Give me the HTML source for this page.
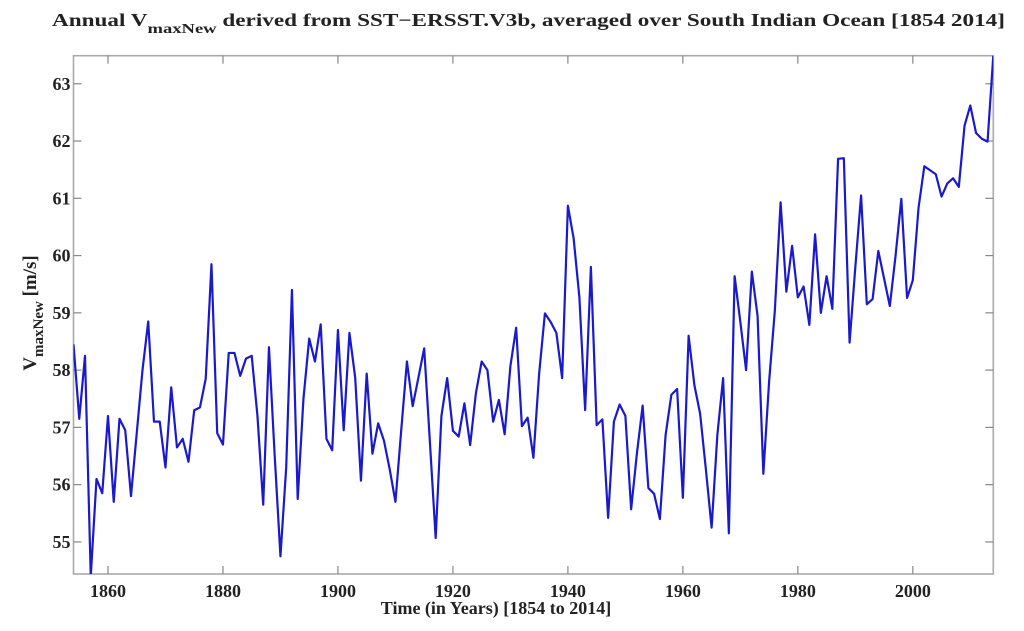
<!DOCTYPE html>
<html><head><meta charset="utf-8"><style>
html,body{margin:0;padding:0;background:#fff;}
svg{display:block;font-family:"Liberation Serif",serif;}
</style></head><body>
<svg id="chart" width="1024" height="631" viewBox="0 0 1024 631" xmlns="http://www.w3.org/2000/svg">
<text x="52" y="26" font-size="17.5" font-weight="bold" fill="#222" textLength="953" lengthAdjust="spacingAndGlyphs">Annual V<tspan dy="7" font-size="14">maxNew</tspan><tspan dy="-7"> derived from SST−ERSST.V3b, averaged over South Indian Ocean [1854 2014]</tspan></text>
<g id="axes"></g>
<text x="496" y="614" text-anchor="middle" font-size="18" font-weight="bold" fill="#222">Time (in Years) [1854 to 2014]</text>
<text transform="translate(36,313) rotate(-90)" text-anchor="middle" font-size="19" font-weight="bold" fill="#222">V<tspan dy="7" font-size="15">maxNew</tspan><tspan dy="-7"> [m/s]</tspan></text>
</svg>
<script>
const startYear = 1854;
const values = [58.45,57.15,58.25,54.4,56.1,55.85,57.2,55.7,57.15,56.95,55.8,56.9,58.0,58.85,57.1,57.1,56.3,57.7,56.65,56.8,56.4,57.3,57.35,57.85,59.85,56.9,56.7,58.3,58.3,57.9,58.2,58.25,57.2,55.65,58.4,56.5,54.75,56.3,59.4,55.75,57.5,58.55,58.15,58.8,56.8,56.6,58.7,56.95,58.65,
57.87,56.07,57.94,56.54,57.07,56.77,56.27,55.7,56.94,58.15,57.37,57.87,58.38,56.74,55.07,57.2,57.86,56.94,56.84,57.42,56.69,57.6,58.15,58.0,57.1,57.48,56.88,58.07,58.74,57.02,57.17,56.47,57.94,58.99,58.84,58.65,57.86,60.87,60.3,59.27,57.3,59.8,57.04,57.14,55.42,57.1,57.4,57.2,55.57,56.54,57.38,55.94,55.84,55.4,56.87,57.57,57.67,
55.77,58.6,57.74,57.24,56.27,55.25,56.87,57.86,55.15,59.64,58.84,58.0,59.72,58.94,56.19,57.8,59.04,60.93,59.37,60.17,59.27,59.46,58.79,60.37,59.0,59.64,59.07,61.69,61.7,58.48,59.8,61.05,59.15,59.24,60.08,59.6,59.12,60.0,60.99,59.26,59.57,60.84,61.56,61.49,61.42,61.03,61.26,61.35,61.2,62.27,62.62,62.14,62.04,61.99,63.49];
const xTicks = [1860,1880,1900,1920,1940,1960,1980,2000];
const yTicks = [55,56,57,58,59,60,61,62,63];
const xDomain = [1854,2014], yDomain = [54.44,63.49];
const L=73.5,R=993.3,T=55.7,B=574;
const sx = v => L + (v-xDomain[0])/(xDomain[1]-xDomain[0])*(R-L);
const sy = v => B - (v-yDomain[0])/(yDomain[1]-yDomain[0])*(B-T);
const NS='http://www.w3.org/2000/svg';
const svg=document.getElementById('chart');
const ax=document.getElementById('axes');
function mk(tag,attrs,parent){const e=document.createElementNS(NS,tag);for(const k in attrs)e.setAttribute(k,attrs[k]);(parent||ax).appendChild(e);return e;}
const frame=mk('rect',{x:L,y:T,width:R-L,height:B-T,fill:'none',stroke:'#aaa','stroke-width':1.6});


xTicks.forEach(t=>{
  const x=sx(t);
  const a=mk('line',{x1:x,x2:x,y1:B,y2:B-8,stroke:'#888','stroke-width':1.2});
  
  
  const b=mk('line',{x1:x,x2:x,y1:T,y2:T+8,stroke:'#888','stroke-width':1.2});
  
  
  const tx=mk('text',{x:x,y:B+23,'text-anchor':'middle','font-size':18,'font-weight':'bold',fill:'#222'});
  tx.textContent=t;
  
  
});
yTicks.forEach(t=>{
  const y=sy(t);
  const a=mk('line',{x1:L,x2:L+8,y1:y,y2:y,stroke:'#888','stroke-width':1.2});
  
  
  const b=mk('line',{x1:R,x2:R-8,y1:y,y2:y,stroke:'#888','stroke-width':1.2});
  
  
  const tx=mk('text',{x:L-3,y:y+6,'text-anchor':'end','font-size':18,'font-weight':'bold',fill:'#222'});
  tx.textContent=t;
  
  
});
const clip=mk('clipPath',{id:'pc'},svg);
mk('rect',{x:L,y:T,width:R-L,height:B-T},clip);
const pts=values.map((v,i)=>sx(startYear+i).toFixed(2)+','+sy(v).toFixed(2)).join(' ');
const line=mk('polyline',{points:pts,fill:'none',stroke:'#1a1acc','stroke-width':2.2,'stroke-linejoin':'round','clip-path':'url(#pc)'});


</script>
</body></html>
